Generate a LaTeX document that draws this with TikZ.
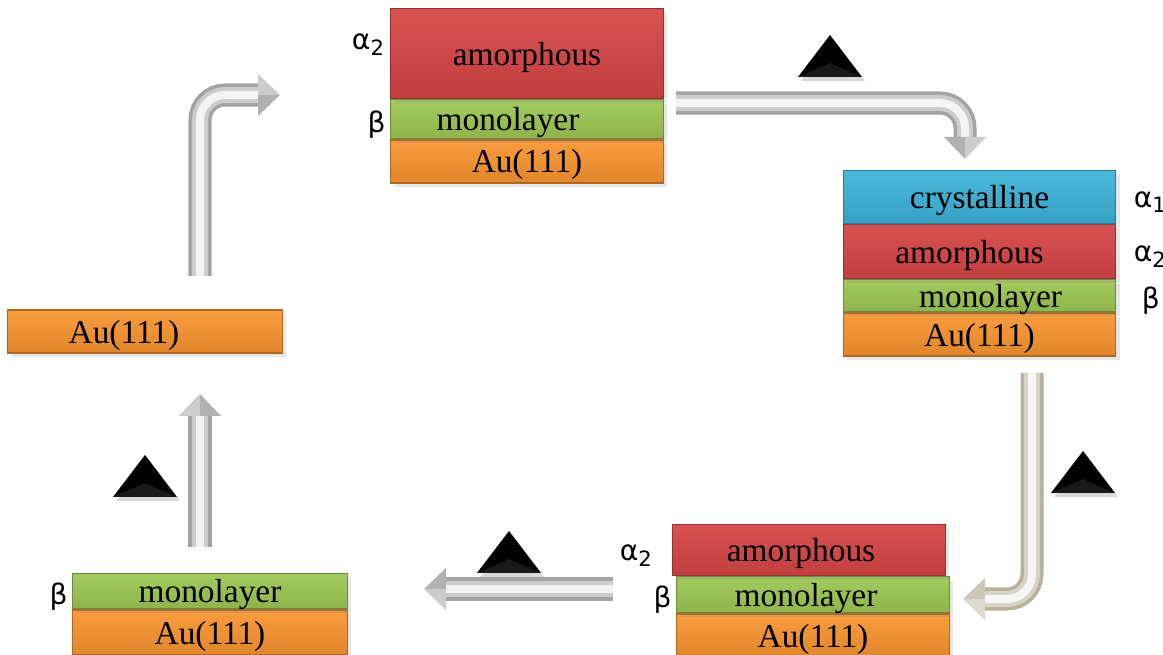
\documentclass[tikz,border=0pt]{standalone}
\usepackage{fontspec}
\setmainfont{Liberation Serif}
\newfontfamily\greekfont{DejaVu Sans}
\usetikzlibrary{arrows.meta,positioning,shadows}
\definecolor{amred}{HTML}{D64545}
\definecolor{monogreen}{HTML}{9DC753}
\definecolor{augold}{HTML}{F99530}
\definecolor{crysblue}{HTML}{3CB3D9}
\definecolor{tubegray}{HTML}{A3A3A3}
\definecolor{tubebeige}{HTML}{B5B19A}

\begin{document}
\begin{tikzpicture}[
  x=0.01cm, y=-0.01cm,
  film/.style={rectangle, inner sep=0pt, minimum width=27.2mm,
    text height=2.3mm, text depth=0mm,
    top color=#1!93!white, bottom color=#1!90!black, draw=#1!70!black, line width=0.3pt,
    drop shadow={opacity=0.2, shadow xshift=0.4mm, shadow yshift=-0.4mm},
    font=\fontsize{9.5}{11}\selectfont},
  greek/.style={font=\greekfont\fontsize{8}{10}\selectfont, inner sep=0.4mm, yshift=-0.5mm},
  nudge/.style={execute at begin node={\hspace*{#1}}},
  tube/.style={line width=2.3mm, draw=#1, rounded corners=2.5mm,
    postaction={draw=#1!55!white, line width=1.6mm},
    postaction={draw=#1!12!white, line width=0.8mm}},
  arrowhead/.pic={
    \fill[pic actions] (0,-21) -- (22,0) -- (0,21) -- cycle;
    \fill[white, opacity=0.35] (0,-21) -- (22,0) -- (0,0) -- cycle;},
  heat/.pic={
    \fill[black, drop shadow={opacity=0.3, shadow xshift=0.3mm, shadow yshift=-0.4mm}]
      (-32,0) -- (32,0) -- (0,-42) -- cycle;
    \fill[black!90] (-32,0) -- (32,0) -- (0,-14) -- cycle;},
]
\useasboundingbox (0,0) rectangle (1163,655);

% bare gold
\node[film=augold, minimum height=4.3mm, minimum width=27.4mm, nudge=-4.2mm] (auBare) at (145,331.5) {Au(111)};

% monolayer + amorphous film
\node[film=augold, minimum height=4.3mm] (auTop) at (527,161.5) {Au(111)};
\node[film=monogreen, minimum height=3.9mm, above=0pt of auTop, nudge=-3.8mm,
  label={[greek]left:β}] (monoTop) {monolayer};
\node[film=amred, minimum height=9mm, above=0pt of monoTop,
  label={[greek, yshift=1.4mm]left:α\textsubscript{2}}] (amTop) {amorphous};

% crystalline on top
\node[film=augold, minimum height=4.3mm] (auRight) at (979.5,334.5) {Au(111)};
\node[film=monogreen, minimum height=3.2mm, above=0pt of auRight, nudge=2.2mm,
  label={[greek, label distance=2.1mm]right:β}] (monoRight) {monolayer};
\node[film=amred, minimum height=5.4mm, above=0pt of monoRight, nudge=-2mm,
  label={[greek, label distance=1.3mm]right:α\textsubscript{2}}] (amRight) {amorphous};
\node[film=crysblue, minimum height=5.3mm, above=0pt of amRight,
  label={[greek, label distance=1.3mm]right:α\textsubscript{1}}] (crysRight) {crystalline};

% crystalline desorbed
\node[film=augold, minimum height=4.3mm] (auLow) at (813,635.5) {Au(111)};
\node[film=monogreen, minimum height=3.6mm, above=0pt of auLow, nudge=-1.4mm,
  label={[greek]left:β}] (monoLow) {monolayer};
\node[film=amred, minimum height=5.1mm, above=0pt of monoLow, xshift=-0.4mm, nudge=-1.6mm,
  label={[greek, label distance=1.4mm]left:α\textsubscript{2}}] (amLow) {amorphous};

% monolayer only
\node[film=augold, minimum height=4.5mm, minimum width=27.4mm] (auBase) at (210,632.5) {Au(111)};
\node[film=monogreen, minimum height=3.5mm, minimum width=27.4mm, above=0pt of auBase,
  label={[greek]left:β}] (monoBase) {monolayer};

% arrow ends
\coordinate (s1) at (200,276);  \coordinate (e1) at (258,95);
\coordinate (s2) at (676,103);  \coordinate (e2) at (965,137);
\coordinate (s3) at (1032,373); \coordinate (e3) at (985,599);
\coordinate (s4) at (613,589);  \coordinate (e4) at (446,589);
\coordinate (s5) at (200,547);  \coordinate (e5) at (200,416);

% cycle arrows
\draw[tube=tubegray] (s1) |- (e1);
\pic[fill=tubegray!85] at (e1) {arrowhead};
\draw[tube=tubegray] (s2) -| (e2);
\pic[rotate=-90, fill=tubegray!85] at (e2) {arrowhead};
\draw[tube=tubebeige] (s3) |- (e3);
\pic[rotate=180, fill=tubebeige!70] at (e3) {arrowhead};
\draw[tube=tubegray] (s4) -- (e4);
\pic[rotate=180, fill=tubegray!85] at (e4) {arrowhead};
\draw[tube=tubegray] (s5) -- (e5);
\pic[rotate=90, fill=tubegray!85] at (e5) {arrowhead};

% heating steps
\pic at (830,77) {heat};
\pic at (1083,493) {heat};
\pic at (509,573) {heat};
\pic at (145,497) {heat};
\end{tikzpicture}
\end{document}
